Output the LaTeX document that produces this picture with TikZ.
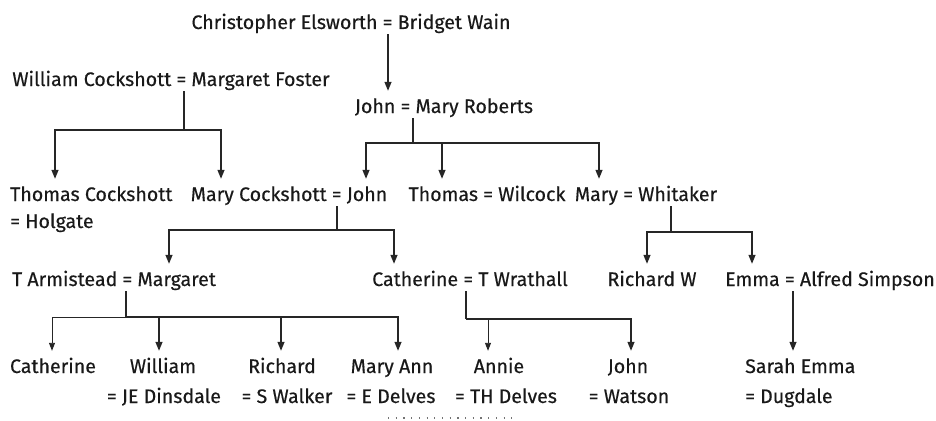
\documentclass[tikz,border=0pt]{standalone}
\usepackage{fontspec}
\setmainfont{Fira Sans}
\newfontfamily\namefont{Fira Sans}[FakeBold=0.4]
\usetikzlibrary{arrows.meta}

\begin{document}
\begin{tikzpicture}[x=1pt,y=-1pt,
  person/.style={anchor=base,inner sep=0pt,text height=22pt,text depth=5pt,
    font=\namefont\fontsize{19.6}{22}\selectfont,text=black!90},
  line/.style={line width=1.3pt,draw=black!85},
  tip/.style={line width=1.3pt,draw=black!85,-{Triangle[width=7pt,length=9pt]}},
  thin tip/.style={line width=0.9pt,draw=black!85,-{Triangle[width=6pt,length=8pt]}}]
\useasboundingbox (0,0) rectangle (936,420);

% generations, top to bottom
\node[person] (ce) at (351,29) {Christopher Elsworth = Bridget Wain};
\node[person] (wc) at (171,86) {William Cockshott = Margaret Foster};
\node[person] (jm) at (444,113) {John = Mary Roberts};

\node[person,anchor=base west] (tc) at (10,201) {Thomas Cockshott};
\node[person,anchor=base west] (tch) at (10,228) {= Holgate};
\node[person] (mc) at (289,201) {Mary Cockshott = John};
\node[person] (tw) at (487,201) {Thomas = Wilcock};
\node[person] (mw) at (646,201) {Mary = Whitaker};

\node[person] (ta) at (114,286) {T Armistead = Margaret};
\node[person] (cw) at (470,286) {Catherine = T Wrathall};
\node[person] (rw) at (652,286) {Richard W};
\node[person] (ea) at (830,286) {Emma = Alfred Simpson};

\node[person] (cat) at (53,373) {Catherine};
\node[person] (wil) at (163,373) {William};
\node[person] (wils) at (164,403) {= JE Dinsdale};
\node[person] (ric) at (282,373) {Richard};
\node[person] (rics) at (287,403) {= S Walker};
\node[person] (ma) at (392,373) {Mary Ann};
\node[person] (mas) at (391,403) {= E Delves};
\node[person] (ann) at (499,373) {Annie};
\node[person] (anns) at (506,403) {= TH Delves};
\node[person] (jo) at (628,373) {John};
\node[person] (jos) at (629,403) {= Watson};
\node[person,anchor=base west] (se) at (745,373) {Sarah Emma};
\node[person,anchor=base west] (ses) at (745,403) {= Dugdale};

% family bars
\coordinate (wcbar) at (184,130);
\coordinate (jmbar) at (413,143);
\coordinate (mcbar) at (337,230);
\coordinate (mwbar) at (671,232);
\coordinate (tabar) at (126,317);
\coordinate (cwbar) at (466,319);

\draw[tip] (ce.south -| 388,0) -- (jm.north -| 388,0);

\draw[line] (wc.south -| wcbar) -- (wcbar);
\draw[tip] (wcbar) -| (tc.north -| 55,0);
\draw[tip] (wcbar) -| (mc.north -| 221,0);

\draw[line] (jm.south -| jmbar) -- (jmbar);
\draw[tip] (jmbar) -| (mc.north -| 366,0);
\draw[tip] (jmbar) -| (tw.north -| 442,0);
\draw[tip] (jmbar) -| (mw.north -| 599,0);

\draw[line] (mc.south -| mcbar) -- (mcbar);
\draw[tip] (mcbar) -| (ta.north -| 169,0);
\draw[tip] (mcbar) -| (cw.north -| 394,0);

\draw[line] (mw.south -| mwbar) -- (mwbar);
\draw[tip] (mwbar) -| (rw.north -| 647,0);
\draw[tip] (mwbar) -| (ea.north -| 752,0);

\draw[line] (ta.south -| tabar) -- (tabar);
\draw[thin tip] (tabar) -| (cat.north -| 52,0);
\draw[tip] (tabar) -| (wil.north -| 159,0);
\draw[tip] (tabar) -| (ric.north -| 281,0);
\draw[tip] (tabar) -| (ma.north -| 398,0);

\draw[line] (cw.south -| cwbar) -- (cwbar);
\draw[thin tip] (cwbar) -| (ann.north -| 488,0);
\draw[tip] (cwbar) -| (jo.north -| 631,0);

\draw[tip] (ea.south -| 793,0) -- (se.north -| 793,0);

\draw[line width=1.2pt,draw=black!55,dash pattern=on 1.2pt off 6.5pt] (388,418) -- (518,418);
\end{tikzpicture}
\end{document}
